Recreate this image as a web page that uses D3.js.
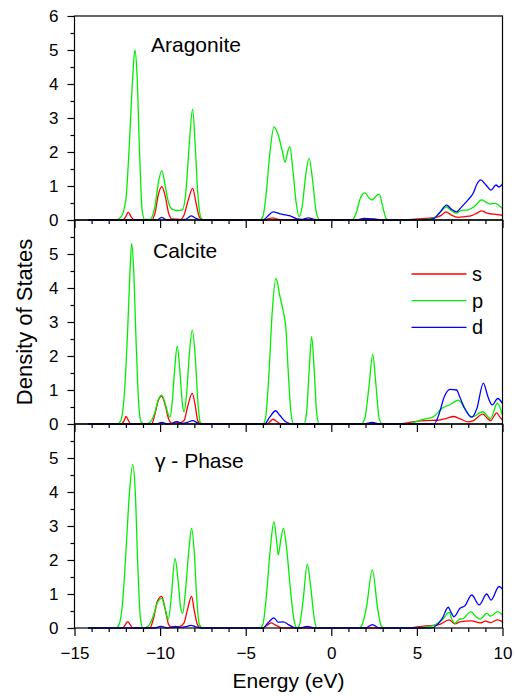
<!DOCTYPE html>
<html>
<head>
<meta charset="utf-8">
<script src="https://cdn.jsdelivr.net/npm/d3@7"></script>
<style>
  body { margin: 0; background: #fff; }
  svg text { font-family: "Liberation Sans", Arial, sans-serif; fill: #000; }
</style>
</head>
<body>
<div id="chart"></div>
<script>
const panelNames = ["Aragonite", "Calcite", "γ - Phase"]
const orbitals = ["s", "p", "d"]
const orbitalColors = ["#ff0000", "#00ee00", "#0000ff"]
const energyTicks = [-15, -10, -5, 0, 5, 10]
const dosTicks = [0, 1, 2, 3, 4, 5, 6]

// [energy (eV), DOS]
const aragoniteS = [[-14.2,0],[-12.2,0],[-12.0,0.1],[-11.86,0.23],[-11.7,0.1],[-11.5,0],[-10.5,0],[-10.3,0.2],[-10.1,0.75],[-9.9,0.98],[-9.7,0.7],[-9.5,0.2],[-9.3,0.03],[-8.8,0.02],[-8.6,0.15],[-8.35,0.6],[-8.1,0.93],[-7.9,0.5],[-7.7,0.08],[-7.5,0],[-3.9,0],[-3.6,0.05],[-3.4,0.06],[-3.2,0.03],[-2.9,0],[4.0,0],[5.0,0.03],[6.0,0.07],[6.4,0.13],[6.7,0.24],[7.0,0.15],[7.42,0.08],[7.8,0.1],[8.2,0.13],[8.5,0.2],[8.78,0.27],[9.1,0.2],[9.5,0.17],[10,0.14]]
const aragoniteP = [[-14.2,0],[-12.6,0],[-12.3,0.08],[-12.0,0.6],[-11.8,2.2],[-11.6,4.2],[-11.47,5.0],[-11.35,4.3],[-11.2,2.0],[-11.05,0.3],[-10.9,0.02],[-10.6,0.02],[-10.3,0.4],[-10.1,1.1],[-9.9,1.45],[-9.7,1.0],[-9.5,0.5],[-9.3,0.32],[-9.0,0.28],[-8.7,0.3],[-8.5,0.8],[-8.3,2.2],[-8.1,3.26],[-7.95,2.2],[-7.8,0.8],[-7.6,0.05],[-7.4,0],[-4.2,0],[-4.0,0.1],[-3.8,0.8],[-3.6,1.9],[-3.35,2.74],[-3.1,2.5],[-2.85,2.0],[-2.7,1.7],[-2.55,2.0],[-2.42,2.16],[-2.25,1.5],[-2.05,0.5],[-1.88,0.1],[-1.7,0.4],[-1.5,1.3],[-1.3,1.81],[-1.1,1.2],[-0.9,0.3],[-0.7,0.02],[-0.5,0],[1.2,0],[1.45,0.2],[1.7,0.65],[1.97,0.8],[2.2,0.65],[2.4,0.59],[2.6,0.7],[2.8,0.76],[3.0,0.4],[3.2,0.05],[3.4,0],[5.5,0.02],[6.0,0.06],[6.4,0.25],[6.7,0.39],[7.0,0.28],[7.3,0.2],[7.6,0.28],[8.0,0.3],[8.4,0.42],[8.78,0.59],[9.05,0.52],[9.27,0.47],[9.6,0.49],[9.8,0.42],[10,0.34]]
const aragoniteD = [[-14.2,0],[-10.2,0],[-9.9,0.08],[-9.6,0],[-8.5,0.02],[-8.2,0.12],[-7.9,0.05],[-7.6,0],[-4.0,0],[-3.7,0.12],[-3.4,0.24],[-3.0,0.18],[-2.6,0.14],[-2.3,0.1],[-2.0,0.03],[-1.7,0.02],[-1.35,0.06],[-1.0,0.02],[-0.7,0],[1.5,0],[1.9,0.05],[2.5,0.03],[3.0,0],[5.5,0.01],[6.0,0.05],[6.3,0.2],[6.74,0.44],[7.0,0.32],[7.32,0.24],[7.6,0.38],[8.0,0.6],[8.3,0.8],[8.5,1.05],[8.73,1.18],[9.0,1.05],[9.33,0.88],[9.62,1.03],[9.8,0.97],[10,1.06]]

const calciteS = [[-14.2,0],[-12.3,0],[-12.1,0.1],[-11.99,0.22],[-11.85,0.1],[-11.7,0],[-10.5,0],[-10.3,0.3],[-10.1,0.7],[-9.91,0.82],[-9.7,0.55],[-9.5,0.15],[-9.3,0.02],[-9.1,0.06],[-8.9,0.03],[-8.6,0.1],[-8.4,0.5],[-8.12,0.9],[-7.95,0.55],[-7.8,0.1],[-7.6,0],[-3.8,0],[-3.6,0.06],[-3.4,0.14],[-3.2,0.08],[-3.0,0.01],[-2.8,0],[4.0,0],[4.5,0.04],[5.0,0.08],[5.5,0.1],[6.2,0.11],[6.7,0.16],[7.13,0.22],[7.5,0.16],[8.0,0.06],[8.3,0.1],[8.84,0.29],[9.1,0.18],[9.3,0.1],[9.66,0.33],[9.85,0.2],[10,0.12]]
const calciteP = [[-14.2,0],[-12.5,0],[-12.3,0.1],[-12.1,0.8],[-11.9,2.7],[-11.75,4.6],[-11.66,5.31],[-11.55,4.6],[-11.4,2.4],[-11.25,0.6],[-11.1,0.05],[-10.9,0],[-10.6,0.05],[-10.3,0.35],[-10.1,0.72],[-9.91,0.85],[-9.7,0.6],[-9.5,0.25],[-9.42,0.2],[-9.3,0.6],[-9.15,1.6],[-9.0,2.29],[-8.85,1.6],[-8.7,0.6],[-8.6,0.36],[-8.45,0.9],[-8.3,2.0],[-8.12,2.76],[-7.95,2.0],[-7.8,0.7],[-7.65,0.05],[-7.5,0],[-4.0,0],[-3.85,0.15],[-3.65,1.4],[-3.45,3.3],[-3.23,4.28],[-3.0,3.75],[-2.8,3.3],[-2.65,2.8],[-2.5,1.4],[-2.35,0.3],[-2.2,0],[-1.6,0],[-1.45,0.3],[-1.3,1.5],[-1.15,2.57],[-1.0,1.6],[-0.85,0.3],[-0.7,0],[1.7,0],[1.95,0.15],[2.2,1.1],[2.42,2.05],[2.6,1.2],[2.8,0.15],[3.0,0],[4.5,0],[5.0,0.08],[5.5,0.15],[5.96,0.21],[6.45,0.46],[6.9,0.56],[7.42,0.7],[7.8,0.45],[8.2,0.2],[8.84,0.36],[9.3,0.16],[9.7,0.61],[10,0.25]]
const calciteD = [[-14.2,0],[-10.2,0],[-9.9,0.05],[-9.6,0],[-9.3,0.02],[-9.0,0.07],[-8.7,0.02],[-8.4,0.05],[-8.1,0.1],[-7.8,0.03],[-7.6,0],[-3.9,0],[-3.6,0.2],[-3.25,0.39],[-3.0,0.25],[-2.7,0.08],[-2.4,0.01],[-2.2,0],[1.9,0],[2.4,0.05],[2.8,0],[6.0,0],[6.3,0.3],[6.6,0.8],[6.93,1.02],[7.32,1.0],[7.5,0.8],[7.8,0.45],[8.2,0.2],[8.5,0.45],[8.88,1.2],[9.15,0.8],[9.4,0.56],[9.72,0.75],[10,0.6]]

const gammaS = [[-14.2,0],[-12.2,0],[-12.0,0.12],[-11.9,0.19],[-11.75,0.1],[-11.6,0],[-10.6,0],[-10.4,0.25],[-10.15,0.8],[-9.91,0.93],[-9.7,0.55],[-9.5,0.1],[-9.3,0.01],[-8.9,0.03],[-8.6,0.15],[-8.4,0.55],[-8.16,0.93],[-8.0,0.5],[-7.8,0.08],[-7.6,0],[-4.0,0],[-3.7,0.1],[-3.5,0.15],[-3.3,0.1],[-3.0,0.02],[-2.8,0],[4.5,0],[5.0,0.03],[5.5,0.06],[6.3,0.1],[6.88,0.24],[7.23,0.12],[7.5,0.18],[7.8,0.2],[8.2,0.21],[8.7,0.15],[9.0,0.2],[9.3,0.16],[9.72,0.24],[10,0.18]]
const gammaP = [[-14.2,0],[-12.6,0],[-12.4,0.1],[-12.2,0.7],[-12.0,2.2],[-11.8,3.9],[-11.6,4.81],[-11.45,4.0],[-11.3,1.8],[-11.15,0.3],[-11.0,0],[-10.7,0.05],[-10.4,0.35],[-10.15,0.75],[-9.91,0.87],[-9.7,0.55],[-9.52,0.24],[-9.35,0.9],[-9.13,2.05],[-8.95,1.4],[-8.8,0.6],[-8.68,0.43],[-8.5,1.2],[-8.3,2.4],[-8.16,2.93],[-8.0,2.2],[-7.85,0.8],[-7.7,0.1],[-7.5,0],[-4.2,0],[-4.0,0.1],[-3.8,0.9],[-3.55,2.4],[-3.35,3.13],[-3.2,2.6],[-3.1,2.15],[-2.95,2.6],[-2.8,2.93],[-2.6,2.3],[-2.4,1.2],[-2.2,0.3],[-2.0,0],[-1.85,0.1],[-1.65,0.8],[-1.4,1.88],[-1.2,1.2],[-1.0,0.3],[-0.85,0],[1.6,0],[1.8,0.1],[2.05,0.6],[2.4,1.71],[2.7,0.6],[2.9,0.08],[3.1,0],[5.0,0],[5.5,0.03],[6.0,0.08],[6.5,0.25],[6.88,0.46],[7.05,0.25],[7.23,0.14],[7.45,0.25],[7.71,0.28],[8.16,0.48],[8.45,0.33],[8.69,0.26],[9.08,0.43],[9.3,0.35],[9.72,0.48],[10,0.38]]
const gammaD = [[-14.2,0],[-10.3,0],[-9.95,0.05],[-9.6,0],[-9.4,0.02],[-9.1,0.05],[-8.8,0.02],[-8.5,0.04],[-8.2,0.08],[-7.9,0.03],[-7.6,0],[-4.0,0],[-3.7,0.15],[-3.35,0.3],[-3.1,0.17],[-2.8,0.18],[-2.5,0.1],[-2.2,0.02],[-1.8,0],[-1.4,0.05],[-1.0,0],[2.0,0],[2.4,0.1],[2.8,0],[5.8,0],[6.2,0.1],[6.5,0.3],[6.83,0.61],[7.0,0.45],[7.17,0.33],[7.52,0.58],[7.8,0.65],[8.2,0.97],[8.64,0.68],[9.08,1.0],[9.33,0.82],[9.8,1.22],[10,1.14]]

const panelSeries = [
  [aragoniteS, aragoniteP, aragoniteD],
  [calciteS, calciteP, calciteD],
  [gammaS, gammaP, gammaD]
]

const W = 515, H = 700
const plotLeft = 74.5, plotRight = 502.5, plotTop = 16, panelH = 204
// label placement inside each panel (offset from panel top)
const labelPos = [[151, 36], [153, 38], [155, 44]]

const svg = d3.select("#chart").append("svg")
  .attr("width", W).attr("height", H)

const x = d3.scaleLinear([-15, 10], [plotLeft, plotRight])

panelNames.forEach((name, i) => {
  const y0 = plotTop + i * panelH
  const y = d3.scaleLinear([0, 6], [y0 + panelH, y0])
  const line = d3.line().curve(d3.curveMonotoneX).x(d => x(d[0])).y(d => y(d[1]))
  const g = svg.append("g")

  // curves, d on top
  panelSeries[i].forEach((series, k) => {
    g.append("path")
      .attr("d", line(series))
      .attr("fill", "none")
      .attr("stroke", orbitalColors[k])
      .attr("stroke-width", 1.3)
  })

  // frame
  g.append("rect")
    .attr("x", plotLeft).attr("y", y0)
    .attr("width", plotRight - plotLeft).attr("height", panelH)
    .attr("fill", "none").attr("stroke", "#000").attr("stroke-width", 1.2)

  // y axis
  const yLabels = i === 0 ? dosTicks : dosTicks.slice(0, -1)
  const yMinor = g.append("g").attr("transform", `translate(${plotLeft},0)`)
    .call(d3.axisLeft(y).tickValues(d3.range(0.5, 6, 1)).tickSize(4).tickFormat(""))
  const yMajor = g.append("g").attr("transform", `translate(${plotLeft},0)`)
    .call(d3.axisLeft(y).tickValues(yLabels).tickSize(7).tickPadding(9).tickFormat(d3.format("d")))

  // x axis
  const isLast = i === panelNames.length - 1
  const xMinor = g.append("g").attr("transform", `translate(0,${y0 + panelH})`)
    .call(d3.axisBottom(x).tickValues(d3.range(-14, 10, 1).filter(v => v % 5 !== 0)).tickSize(4).tickFormat(""))
  const xMajor = g.append("g").attr("transform", `translate(0,${y0 + panelH})`)
    .call(d3.axisBottom(x).tickValues(energyTicks).tickSize(8).tickPadding(11)
      .tickFormat(isLast ? d3.format("d") : () => ""))

  g.selectAll(".domain").remove()
  g.selectAll(".tick line").attr("stroke", "#000").attr("stroke-width", 1.2)
  g.selectAll(".tick text").attr("font-size", 17)
    .attr("font-family", "'Liberation Sans', Arial, sans-serif")

  g.append("text")
    .attr("x", labelPos[i][0]).attr("y", y0 + labelPos[i][1])
    .attr("font-size", 21)
    .text(name)
})

// legend
const legend = svg.append("g")
orbitals.forEach((o, k) => {
  const ly = 274 + k * 26.7
  legend.append("line")
    .attr("x1", 411.5).attr("x2", 466.5).attr("y1", ly).attr("y2", ly)
    .attr("stroke", orbitalColors[k]).attr("stroke-width", 1.3)
  legend.append("text")
    .attr("x", 472).attr("y", ly).attr("dy", "0.35em")
    .attr("font-size", 20)
    .text(o)
})

// axis titles
svg.append("text")
  .attr("x", (plotLeft + plotRight) / 2).attr("y", 688)
  .attr("text-anchor", "middle").attr("font-size", 21)
  .text("Energy (eV)")

svg.append("text")
  .attr("transform", `translate(32,${plotTop + 1.5 * panelH}) rotate(-90)`)
  .attr("text-anchor", "middle").attr("font-size", 22)
  .text("Density of States")
</script>
</body>
</html>
